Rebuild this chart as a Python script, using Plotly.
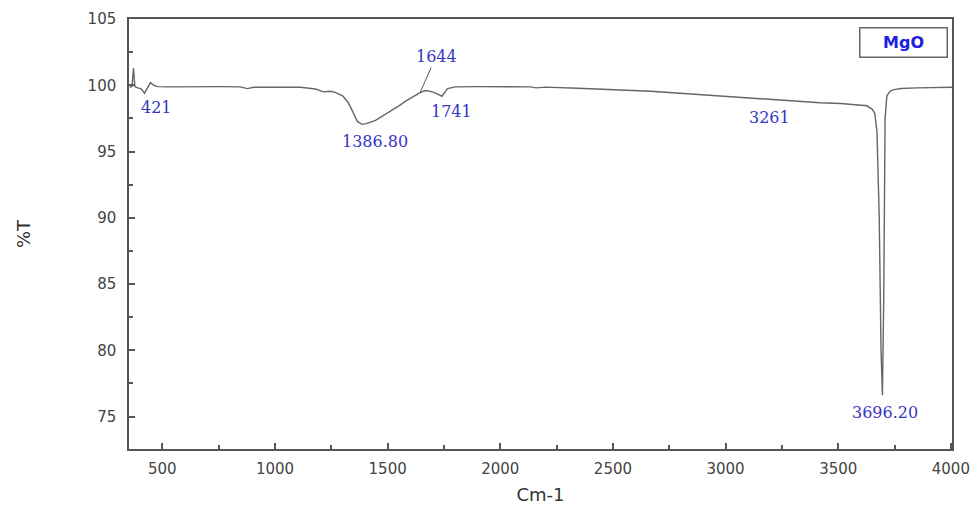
import plotly.graph_objects as go

# FTIR transmittance spectrum of MgO
wavenumber = [355, 365, 372, 378, 390, 405, 421, 433, 447, 462, 480, 520, 600, 669,
              760, 846, 877, 905, 1000, 1113, 1180, 1215, 1246, 1270, 1300, 1325,
              1344, 1366, 1386.80, 1405, 1446, 1480, 1513, 1550, 1580, 1610, 1633,
              1644, 1668, 1699, 1720, 1741, 1766, 1801, 1900, 2000, 2134, 2160, 2200,
              2343, 2445, 2560, 2668, 2780, 2890, 3000, 3112, 3261, 3334, 3420, 3512,
              3580, 3627, 3650, 3662, 3672, 3682, 3690, 3696.20, 3702, 3708, 3716,
              3730, 3747, 3780, 3850, 3950, 4005]
transmittance = [99.85, 99.9, 101.3, 99.9, 99.8, 99.75, 99.4, 99.75, 100.2, 100.0, 99.9,
                 99.88, 99.9, 99.92, 99.9, 99.88, 99.75, 99.85, 99.87, 99.85, 99.72, 99.5,
                 99.55, 99.45, 99.2, 98.7, 98.05, 97.25, 97.05, 97.1, 97.35, 97.7, 98.05,
                 98.45, 98.8, 99.1, 99.3, 99.45, 99.6, 99.5, 99.35, 99.17, 99.75, 99.88,
                 99.9, 99.9, 99.88, 99.8, 99.86, 99.77, 99.68, 99.62, 99.55, 99.42, 99.3,
                 99.18, 99.05, 98.88, 98.75, 98.68, 98.62, 98.55, 98.45, 98.2, 97.9, 96.5,
                 90.0, 80.0, 76.6, 84.0, 97.5, 99.2, 99.55, 99.67, 99.75, 99.8, 99.83,
                 99.85]

# Labelled bands
peak_wn = [421, 1386.80, 1644, 1741, 3261, 3696.20]
peak_text = ["421", "1386.80", "1644", "1741", "3261", "3696.20"]

x_ticks = [500, 1000, 1500, 2000, 2500, 3000, 3500, 4000]
y_ticks = [75, 80, 85, 90, 95, 100, 105]

label_color = "#3535c4"
axis_color = "#555555"
tick_font = dict(family="DejaVu Sans, Arial, sans-serif", size=15, color="#444444")

fig = go.Figure()
fig.add_trace(go.Scatter(
    x=wavenumber, y=transmittance, mode="lines",
    line=dict(color="#666666", width=1.4),
    showlegend=False, hoverinfo="x+y",
))

# label offsets (px) relative to the band point on the curve
offsets = {
    "421": (12, -14),
    "1386.80": (13, -17),
    "1741": (10, -15),
    "3261": (-15, -17),
    "3696.20": (3, -17),
}

for wn, txt in zip(peak_wn, peak_text):
    yv = transmittance[wavenumber.index(wn)]
    if txt == "1644":
        fig.add_annotation(
            x=wn, y=yv, xref="x", yref="y", text=txt,
            showarrow=True, arrowhead=0, arrowwidth=1, arrowcolor="#555555",
            ax=16, ay=-36, standoff=0,
            font=dict(family="DejaVu Serif, Liberation Serif, serif", size=16, color=label_color),
        )
    else:
        dx, dy = offsets[txt]
        fig.add_annotation(
            x=wn, y=yv, xref="x", yref="y", text=txt, showarrow=False,
            xanchor="center", yanchor="middle", xshift=dx, yshift=dy,
            font=dict(family="DejaVu Serif, Liberation Serif, serif", size=16, color=label_color),
        )

# sample tag in the upper-right corner
fig.add_annotation(
    x=0.9951, y=0.9465, xref="paper", yref="paper", xanchor="right", yanchor="middle",
    text="<b>MgO</b>", showarrow=False, width=82, height=24, align="center",
    bgcolor="white", bordercolor="#666666", borderwidth=1.5, borderpad=2,
    font=dict(family="DejaVu Sans, Arial, sans-serif", size=16, color="#2020e0"),
)

fig.update_layout(
    width=978, height=509,
    margin=dict(l=129, r=26, t=19, b=60),
    paper_bgcolor="white", plot_bgcolor="white",
    showlegend=False,
)
fig.update_xaxes(
    range=[352, 4005], tickvals=x_ticks, ticks="inside", ticklen=6, tickwidth=1.5,
    tickcolor=axis_color, showline=True, linecolor=axis_color, linewidth=1.5, mirror=True,
    showgrid=False, zeroline=False, tickfont=tick_font, ticklabelstandoff=5,
    automargin=False,
    minor=dict(tickvals=[750, 1250, 1750, 2250, 2750, 3250, 3750], ticks="inside",
               ticklen=4, tickcolor=axis_color, showgrid=False),
    title=dict(text="Cm-1", font=dict(family="DejaVu Sans, Arial, sans-serif", size=18,
                                      color="#333333"), standoff=12),
)
fig.update_yaxes(
    range=[72.55, 105.0], tickvals=y_ticks, ticks="inside", ticklen=6, tickwidth=1.5,
    tickcolor=axis_color, showline=True, linecolor=axis_color, linewidth=1.5, mirror=True,
    showgrid=False, zeroline=False, tickfont=tick_font, ticklabelstandoff=8,
    automargin=False,
    minor=dict(tickvals=[77.5, 82.5, 87.5, 92.5, 97.5, 102.5], ticks="inside",
               ticklen=4, tickcolor=axis_color, showgrid=False),
    title=dict(text="%T", font=dict(family="DejaVu Sans, Arial, sans-serif", size=18,
                                    color="#333333"), standoff=52),
)

fig.write_html("out.html")
